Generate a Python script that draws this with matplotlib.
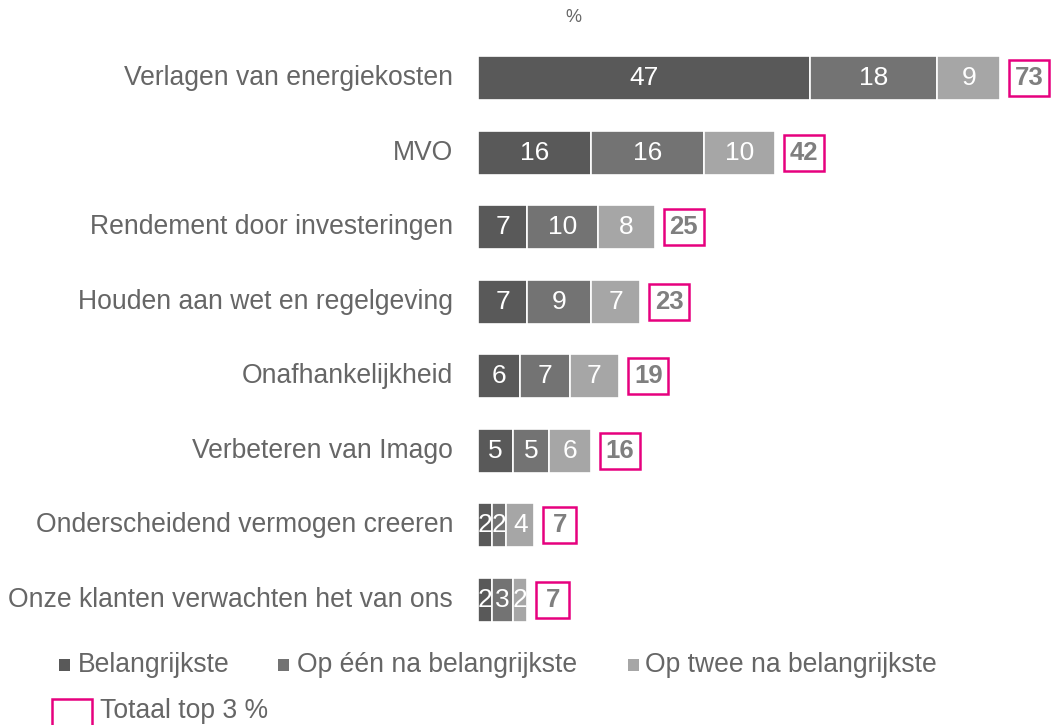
import matplotlib
matplotlib.use("Agg")
import matplotlib.pyplot as plt
from matplotlib.patches import Rectangle

categories = ["Verlagen van energiekosten", "MVO", "Rendement door investeringen",
              "Houden aan wet en regelgeving", "Onafhankelijkheid", "Verbeteren van Imago",
              "Onderscheidend vermogen creeren", "Onze klanten verwachten het van ons"]
belangrijkste = [47, 16, 7, 7, 6, 5, 2, 2]
een_na = [18, 16, 10, 9, 7, 5, 2, 3]
twee_na = [9, 10, 8, 7, 7, 6, 4, 2]
totaal = [73, 42, 25, 23, 19, 16, 7, 7]
series_names = ["Belangrijkste", "Op één na belangrijkste", "Op twee na belangrijkste"]
total_name = "Totaal top 3 %"

colors = ["#595959", "#737373", "#a6a6a6"]
pink = "#e6007e"
gray_txt = "#7f7f7f"
label_col = "#666666"

plt.rcParams['font.family'] = ['Liberation Sans', 'DejaVu Sans']

W, H = 1056, 725
fig = plt.figure(figsize=(W / 100, H / 100), dpi=100)

px_per_unit = 7.06
x0 = 478
ax_w = W - x0
top_px, bot_px = 40, 640
row0, row_sp = 78, 74.57
ax = fig.add_axes([x0 / W, 1 - bot_px / H, ax_w / W, (bot_px - top_px) / H])
ax.set_xlim(0, ax_w / px_per_unit)
ax.set_ylim(7 + (bot_px - 600) / row_sp, -(row0 - top_px) / row_sp)
ax.axis("off")

ypos = list(range(len(categories)))
bh = 44 / row_sp
left = [0] * len(categories)
for vals, c in zip([belangrijkste, een_na, twee_na], colors):
    ax.barh(ypos, vals, left=left, height=bh, color=c, edgecolor="white", linewidth=1.2)
    for y, v, l in zip(ypos, vals, left):
        ax.text(l + v / 2, y, str(v), ha="center", va="center", color="white", fontsize=19)
    left = [l + v for l, v in zip(left, vals)]

for y, end, t in zip(ypos, left, totaal):
    bx = end + 9 / px_per_unit
    bw = (40 if t >= 10 else 33) / px_per_unit
    bhh = 36 / row_sp
    ax.add_patch(Rectangle((bx, y - bhh / 2), bw, bhh, facecolor="white", edgecolor=pink,
                           linewidth=1.8, clip_on=False))
    ax.text(bx + bw / 2, y, str(t), ha="center", va="center", color=gray_txt,
            fontsize=18.5, fontweight="bold")

for y, cat in zip(ypos, categories):
    ax.text(-25 / px_per_unit, y, cat, ha="right", va="center", color=label_col, fontsize=19.1)

fig.text(573 / W, 1 - 17 / H, "%", ha="center", va="center", color=label_col, fontsize=13)

# legend
leg_y = 665
leg_items = [(59, 78, series_names[0], colors[0]), (278, 297, series_names[1], colors[1]),
             (628, 645, series_names[2], colors[2])]
for sx, tx, name, c in leg_items:
    fig.patches.append(Rectangle((sx / W, 1 - (leg_y + 6) / H), 11 / W, 12 / H,
                                 transform=fig.transFigure, facecolor=c, edgecolor="none"))
    fig.text(tx / W, 1 - leg_y / H, name, ha="left", va="center",
             color=label_col, fontsize=19.1)

fig.patches.append(Rectangle((52 / W, 1 - 735 / H), 40 / W, 36 / H, transform=fig.transFigure,
                             facecolor="white", edgecolor=pink, linewidth=1.8))
fig.text(100 / W, 1 - 711 / H, total_name, ha="left", va="center", color=label_col, fontsize=19.1)

fig.savefig("out.png", dpi=100)
